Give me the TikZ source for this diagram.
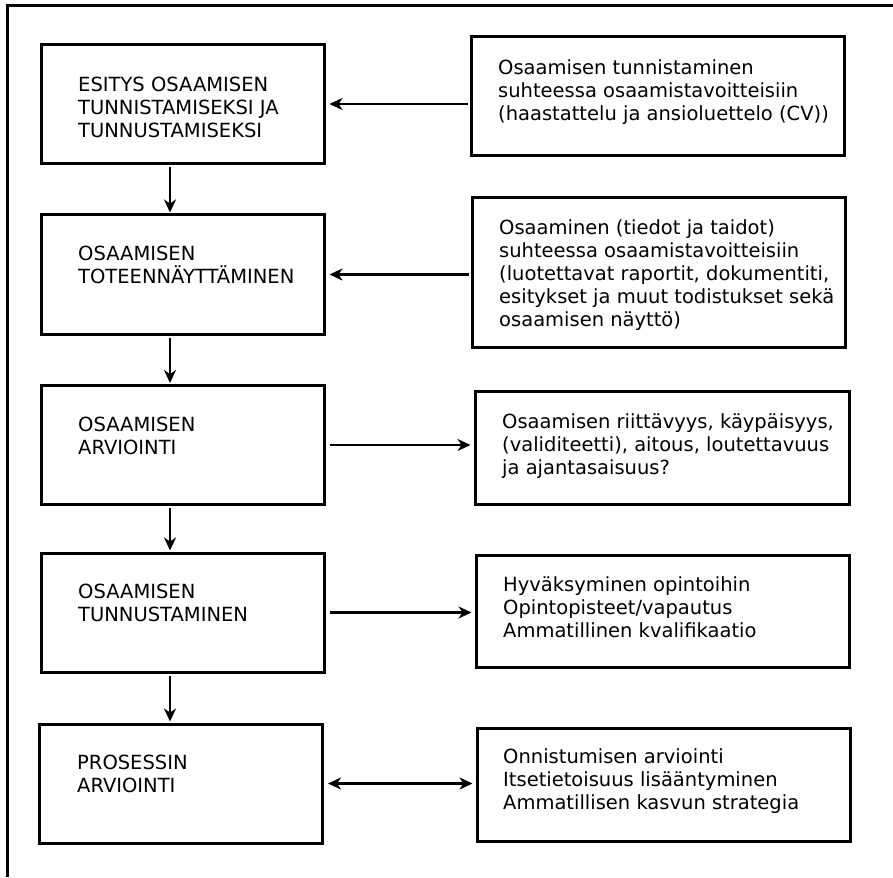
\documentclass[tikz,border=0pt]{standalone}
\usepackage{fontspec}
\setmainfont{DejaVu Sans}
\usetikzlibrary{arrows.meta,calc}
\begin{document}
\begin{tikzpicture}[x=1pt,y=-1pt,
  box/.style={draw, line width=3pt, inner sep=0pt},
  lbox/.style={box, minimum width=283pt, minimum height=119pt},
  lbl/.style={anchor=north west, inner sep=0pt, align=left, font=\fontsize{19.5}{23}\selectfont},
  arr/.style={line width=2.7pt, -{Stealth[length=13pt,width=12pt,inset=4pt]}},
  darr/.style={line width=2.7pt, {Stealth[length=13pt,width=12pt,inset=4pt]}-{Stealth[length=13pt,width=12pt,inset=4pt]}}]
\useasboundingbox (0,0) rectangle (893,877);
% frame
\draw[line width=3pt] (7,877) -- (7,6) -- (893,6);
% left boxes
\node[lbox] (l1) at (182.5,104) {};
\node[lbox] (l2) at (182.5,274.5) {};
\node[lbox] (l3) at (182.5,445) {};
\node[lbox] (l4) at (182.5,612.5) {};
\node[lbox] (l5) at (181,783.5) {};
% right boxes
\node[box, minimum width=373pt, minimum height=119pt] (r1) at (657.5,96.5) {};
\node[box, minimum width=373pt, minimum height=149pt] (r2) at (658.5,272.5) {};
\node[box, minimum width=374pt, minimum height=113pt] (r3) at (662,447.5) {};
\node[box, minimum width=373pt, minimum height=112pt] (r4) at (662.5,611) {};
\node[box, minimum width=373pt, minimum height=113pt] (r5) at (663.5,784.5) {};
% texts
\node[lbl] (t1) at (78,77) {ESITYS OSAAMISEN\\TUNNISTAMISEKSI JA\\TUNNUSTAMISEKSI};
\node[lbl] (t2) at (78,246) {OSAAMISEN\\TOTEENNÄYTTÄMINEN};
\node[lbl] (t3) at (78,417) {OSAAMISEN\\ARVIOINTI};
\node[lbl] (t4) at (78,584) {OSAAMISEN\\TUNNUSTAMINEN};
\node[lbl] (t5) at (77,755) {PROSESSIN\\ARVIOINTI};
\node[lbl] (s1) at (498,59) {Osaamisen tunnistaminen\\suhteessa osaamistavoitteisiin\\(haastattelu ja ansioluettelo (CV))};
\node[lbl] (s2) at (499,219) {Osaaminen (tiedot ja taidot)\\suhteessa osaamistavoitteisiin\\(luotettavat raportit, dokumentiti,\\esitykset ja muut todistukset sekä\\osaamisen näyttö)};
\node[lbl] (s3) at (502,413) {Osaamisen riittävyys, käypäisyys,\\(validiteetti), aitous, loutettavuus\\ja ajantasaisuus?};
\node[lbl] (s4) at (503,576) {Hyväksyminen opintoihin\\Opintopisteet/vapautus\\Ammatillinen kvalifikaatio};
\node[lbl] (s5) at (503,748) {Onnistumisen arviointi\\Itsetietoisuus lisääntyminen\\Ammatillisen kasvun strategia};
% connectors
\coordinate (ax) at (170,0);
\draw[arr, shorten <=2pt, shorten >=1pt] (l1.south -| ax) -- (l2.north -| ax);
\draw[arr, shorten <=2pt, shorten >=1pt] (l2.south -| ax) -- (l3.north -| ax);
\draw[arr, shorten <=2pt, shorten >=1pt] (l3.south -| ax) -- (l4.north -| ax);
\draw[arr, shorten <=2pt, shorten >=1pt] (l4.south -| ax) -- (l5.north -| ax);
\draw[arr, shorten <=2pt, shorten >=4pt] (r1.west |- l1.east) -- (l1.east);
\draw[arr, shorten <=2pt, shorten >=4pt] (r2.west |- l2.east) -- (l2.east);
\draw[arr, shorten <=4pt, shorten >=3pt] (l3.east) -- (r3.west |- l3.east);
\draw[arr, shorten <=4pt, shorten >=3pt] (l4.east) -- (r4.west |- l4.east);
\draw[darr, shorten <=4pt, shorten >=3pt] (l5.east) -- (r5.west |- l5.east);
\end{tikzpicture}
\end{document}
